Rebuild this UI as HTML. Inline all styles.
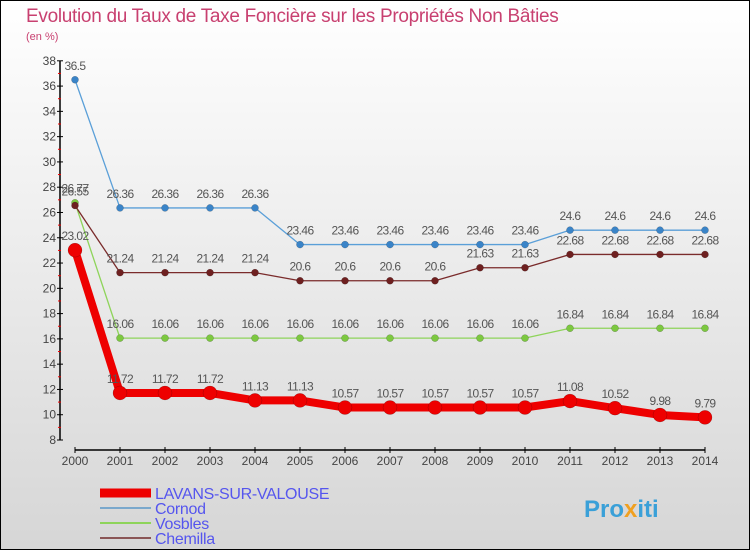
<!DOCTYPE html>
<html><head><meta charset="utf-8"><style>
body{margin:0}
#wrap{width:750px;height:550px;position:relative;overflow:hidden;font-family:"Liberation Sans",sans-serif;}
</style></head><body>
<div id="wrap">
<svg id="chart" width="750" height="550" xmlns="http://www.w3.org/2000/svg">
<defs><linearGradient id="bg" x1="0" y1="0" x2="0" y2="1"><stop offset="0" stop-color="#ffffff"/><stop offset="1" stop-color="#d6d6d6"/></linearGradient></defs>
<rect x="0.5" y="0.5" width="749" height="549" fill="url(#bg)" stroke="#000"/>
<text x="26" y="22" font-size="19" fill="#c84070" letter-spacing="-0.3">Evolution du Taux de Taxe Foncière sur les Propriétés Non Bâties</text>
<text x="26" y="40" font-size="11" fill="#c84070">(en %)</text>
<g id="axes"></g><g id="series"></g><g id="legend"></g>
<text x="584" y="517" font-size="24" font-weight="bold" fill="#3aa0d8">Pro<tspan fill="#f0a020">x</tspan>iti</text>
</svg>
</div>
<script>
const years=[2000,2001,2002,2003,2004,2005,2006,2007,2008,2009,2010,2011,2012,2013,2014];
const lavans=[23.02,11.72,11.72,11.72,11.13,11.13,10.57,10.57,10.57,10.57,10.57,11.08,10.52,9.98,9.79];
const cornod=[36.5,26.36,26.36,26.36,26.36,23.46,23.46,23.46,23.46,23.46,23.46,24.6,24.6,24.6,24.6];
const vosbles=[26.77,16.06,16.06,16.06,16.06,16.06,16.06,16.06,16.06,16.06,16.06,16.84,16.84,16.84,16.84];
const chemilla=[26.55,21.24,21.24,21.24,21.24,20.6,20.6,20.6,20.6,21.63,21.63,22.68,22.68,22.68,22.68];
const yTicks=[8,10,12,14,16,18,20,22,24,26,28,30,32,34,36,38];
const NS="http://www.w3.org/2000/svg";
const x=i=>75+i*45;
const y=v=>440-(v-8)*12.64;
function mk(tag,attrs,parent,txt){const e=document.createElementNS(NS,tag);for(const k in attrs)e.setAttribute(k,attrs[k]);if(txt!==undefined)e.textContent=txt;parent.appendChild(e);return e;}
const axes=document.getElementById('axes');
let e=mk('line',{x1:60,y1:y(38),x2:60,y2:440,stroke:'#000','stroke-width':1.5},axes);

e=mk('line',{x1:75,y1:450,x2:705,y2:450,stroke:'#000','stroke-width':1.5},axes);

yTicks.forEach(t=>{
 mk('line',{x1:57,y1:y(t),x2:63,y2:y(t),stroke:'#000'},axes);
 if(t<38)mk('line',{x1:58,y1:y(t+1),x2:61,y2:y(t+1),stroke:'#e00'},axes);
 const l=mk('text',{x:56,y:y(t)+4,'font-size':12,fill:'#444','text-anchor':'end'},axes,t);
 
});
years.forEach((yr,i)=>{
 mk('line',{x1:x(i),y1:447,x2:x(i),y2:453,stroke:'#000'},axes);
 const l=mk('text',{x:x(i),y:465,'font-size':12,fill:'#444','text-anchor':'middle'},axes,yr);
 
});
const ser=document.getElementById('series');
function draw(data,color,dot,w,r,name){
 const g=mk('g',{},ser);
 const pl=mk('polyline',{points:data.map((v,i)=>x(i)+','+y(v)).join(' '),fill:'none',stroke:color,'stroke-width':w,'stroke-linejoin':'round'},g);
 
 data.forEach((v,i)=>{
  const c=mk('circle',{cx:x(i),cy:y(v),r:r,fill:dot,stroke:'rgba(0,0,0,0.3)','stroke-width':0.5},g);
  
  const t=mk('text',{x:x(i),y:y(v)-10,'font-size':12,fill:'#555','text-anchor':'middle','letter-spacing':'-0.6'},g,v);
  
 });
}
draw(vosbles,'#8ed45a','#7cc840',1.3,3.5,'vosbles');
draw(chemilla,'#7a2b2b','#6e2020',1.3,3.5,'chemilla');
draw(cornod,'#5a9fd8','#3a84c8',1.3,3.5,'cornod');
draw(lavans,'#ee0000','#ee0000',8,7,'lavans');
const lg=document.getElementById('legend');
const items=[['LAVANS-SUR-VALOUSE','#ee0000',9],['Cornod','#7aa8cc',2],['Vosbles','#8ed45a',2],['Chemilla','#8a5555',2]];
items.forEach((it,k)=>{
 const yy=493+k*15;
 const l=mk('line',{x1:100,y1:yy,x2:151,y2:yy,stroke:it[1],'stroke-width':it[2]},lg);
 
 const t=mk('text',{x:155,y:yy+6,'font-size':16,fill:'#5555ee','letter-spacing':'-0.3'},lg,it[0]);
 
});
</script>
</body></html>
